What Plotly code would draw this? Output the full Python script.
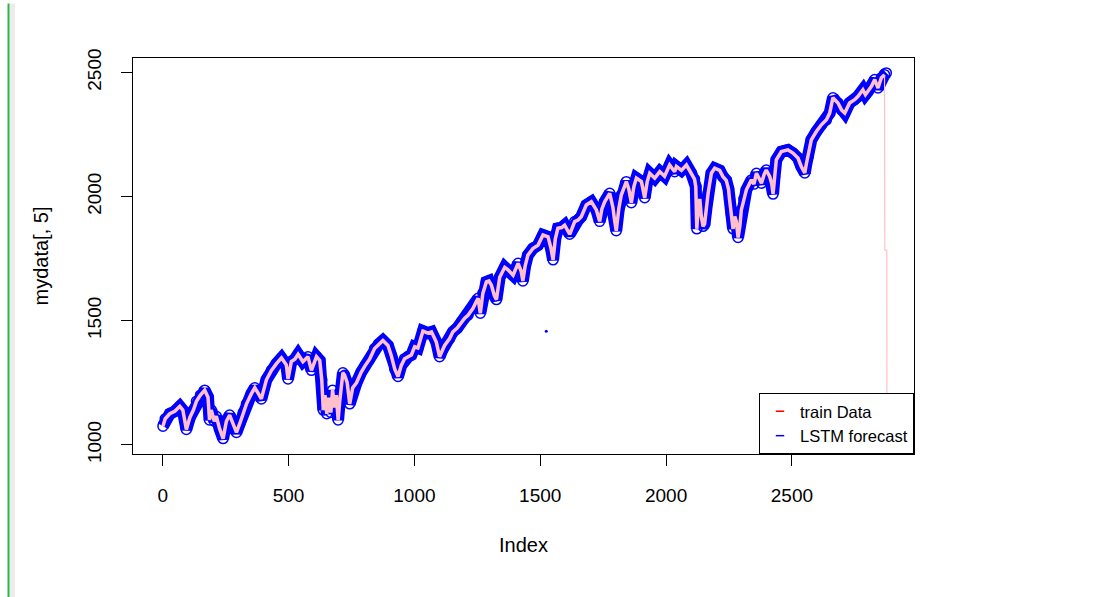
import plotly.graph_objects as go

# ---- data (index, close) ----
idx = [1, 10, 28, 48, 68, 80, 94, 108, 122, 134, 150, 167, 180, 186, 193, 205, 213, 226, 240, 253,
       266, 279, 293, 306, 320, 333, 352, 366, 379, 392, 412, 432, 452, 472, 491, 498, 511, 525, 538, 557,
       577, 591, 611, 624, 632, 638, 645, 652, 660, 668, 675, 683, 690, 697, 703, 716, 723, 733, 743, 755,
       770, 789, 805, 822, 842, 858, 875, 895, 908, 922, 935, 948, 961, 975, 988, 1001, 1014, 1034, 1054, 1068,
       1087, 1100, 1110, 1120, 1140, 1153, 1170, 1187, 1200, 1213, 1233, 1245, 1253, 1262, 1272, 1286, 1296, 1306, 1318, 1326,
       1339, 1359, 1372, 1392, 1412, 1424, 1431, 1440, 1451, 1471, 1491, 1511, 1531, 1543, 1551, 1560, 1570, 1585, 1597, 1617,
       1637, 1650, 1663, 1683, 1703, 1723, 1736, 1745, 1756, 1776, 1789, 1796, 1802, 1812, 1822, 1842, 1852, 1862, 1872, 1882,
       1902, 1915, 1925, 1935, 1955, 1975, 1994, 2014, 2034, 2041, 2061, 2081, 2100, 2113, 2118, 2122, 2128, 2134, 2140, 2147,
       2153, 2160, 2167, 2180, 2193, 2213, 2226, 2239, 2248, 2252, 2259, 2266, 2273, 2279, 2286, 2293, 2299, 2309, 2319, 2339,
       2349, 2359, 2369, 2379, 2390, 2398, 2412, 2420, 2425, 2431, 2438, 2458, 2471, 2484, 2504, 2524, 2537, 2551, 2557, 2564,
       2577, 2597, 2617, 2637, 2650, 2663, 2673, 2683, 2697, 2710, 2729, 2749, 2762, 2782, 2792, 2802, 2816, 2829, 2842, 2855,
       2868, 2875]
close = [1075, 1105, 1125, 1135, 1155, 1140, 1062, 1110, 1140, 1175, 1200, 1220, 1192, 1100, 1140, 1095, 1115, 1065, 1025, 1095,
         1120, 1085, 1050, 1085, 1130, 1165, 1205, 1230, 1208, 1185, 1262, 1300, 1327, 1350, 1322, 1265, 1335, 1345, 1365, 1335,
         1355, 1300, 1355, 1340, 1262, 1140, 1200, 1125, 1190, 1130, 1220, 1150, 1200, 1100, 1172, 1290, 1280, 1250, 1165, 1230,
         1250, 1293, 1320, 1345, 1388, 1405, 1420, 1400, 1360, 1305, 1275, 1320, 1347, 1355, 1362, 1395, 1390, 1458, 1450, 1455,
         1414, 1355, 1380, 1400, 1428, 1455, 1470, 1495, 1510, 1522, 1550, 1575, 1590, 1530, 1610, 1656, 1660, 1643, 1600, 1585,
         1675, 1715, 1705, 1683, 1731, 1700, 1660, 1720, 1764, 1791, 1804, 1845, 1838, 1790, 1745, 1830, 1872, 1875, 1885, 1848,
         1899, 1905, 1919, 1966, 1979, 1946, 1900, 1950, 1979, 2013, 1955, 1900, 1862, 1950, 2006, 2060, 2030, 1975, 2040, 2074,
         2060, 1995, 2060, 2094, 2074, 2100, 2082, 2127, 2100, 2121, 2105, 2127, 2094, 2070, 2040, 1870, 1960, 1990, 1920, 1880,
         1890, 1950, 2013, 2094, 2114, 2105, 2080, 2065, 2030, 1990, 1930, 1870, 1920, 1900, 1835, 1880, 1946, 1990, 2027, 2067,
         2050, 2094, 2075, 2054, 2090, 2107, 2080, 2050, 2010, 2080, 2148, 2181, 2185, 2188, 2175, 2155, 2121, 2095, 2130, 2161,
         2228, 2262, 2289, 2309, 2336, 2398, 2385, 2377, 2349, 2336, 2377, 2390, 2403, 2430, 2410, 2423, 2444, 2471, 2437, 2478,
         2491, 2498]

# tail of the training line (drops off the bottom of the plot)
train_tail_idx = [2869, 2877, 2878]
train_tail_val = [1784, 1784, 600]

# isolated forecast point
stray_idx = [1524]
stray_val = [1457]

x_ticks = [0, 500, 1000, 1500, 2000, 2500]
y_ticks = [1000, 1500, 2000, 2500]

FONT = "Liberation Sans, Arial, sans-serif"

fig = go.Figure()

# LSTM forecast: open blue circles
fig.add_trace(go.Scatter(
    x=idx, y=close, mode="lines+markers", showlegend=False,
    line=dict(color="#0000ff", width=12),
    marker=dict(symbol="circle-open", size=10, color="#0000ff", line=dict(width=1.5, color="#0000ff")),
    hoverinfo="skip"))
fig.add_trace(go.Scatter(
    x=stray_idx, y=stray_val, mode="markers", showlegend=False,
    marker=dict(symbol="circle", size=3, color="#0000ff"), hoverinfo="skip"))

# train data: pink line
fig.add_trace(go.Scatter(
    x=idx[:-1], y=close[:-1], mode="lines", showlegend=False,
    line=dict(color="#ffc0cb", width=3.5), hoverinfo="skip"))
fig.add_trace(go.Scatter(
    x=idx[-2:-1] + train_tail_idx, y=close[-2:-1] + train_tail_val, mode="lines", showlegend=False,
    line=dict(color="#ffc0cb", width=1.2), hoverinfo="skip"))

# legend entries
fig.add_trace(go.Scatter(x=[None], y=[None], mode="markers", name="train Data",
                         marker=dict(symbol="line-ew", size=6, color="red", line=dict(color="red", width=1.5))))
fig.add_trace(go.Scatter(x=[None], y=[None], mode="markers", name="LSTM forecast",
                         marker=dict(symbol="line-ew", size=6, color="blue", line=dict(color="blue", width=1.5))))

axis_common = dict(showline=True, linecolor="black", linewidth=1, mirror=True,
                   ticks="outside", ticklen=11, tickcolor="black", tickwidth=1,
                   showgrid=False, zeroline=False,
                   tickfont=dict(family=FONT, size=19, color="black"))

fig.update_xaxes(range=[-118, 2985], tickvals=x_ticks, ticktext=[str(v) for v in x_ticks],
                 ticklabelstandoff=13,
                 title=dict(text="Index", font=dict(family=FONT, size=20, color="black"), standoff=33),
                 **axis_common)
fig.update_yaxes(range=[963, 2558], tickvals=y_ticks, ticktext=[str(v) for v in y_ticks],
                 tickangle=-90, ticklabelstandoff=12,
                 title=dict(text="mydata[, 5]", font=dict(family=FONT, size=20, color="black"), standoff=30),
                 **axis_common)

# screenshot UI edge at the far left
fig.add_shape(type="rect", xref="paper", yref="paper",
              x0=(9.5 - 133) / 781, x1=(15 - 133) / 781, y0=(453.5 - 597) / 395.2, y1=(453.5 - 4) / 395.2,
              fillcolor="#ececec", line=dict(width=0), layer="below")
fig.add_shape(type="line", xref="paper", yref="paper",
              x0=(8.5 - 133) / 781, x1=(8.5 - 133) / 781, y0=(453.5 - 597) / 395.2, y1=(453.5 - 4) / 395.2,
              line=dict(color="#2db54c", width=2))

fig.update_layout(
    width=1101, height=597,
    margin=dict(l=133, r=187, t=58, b=143),
    paper_bgcolor="white", plot_bgcolor="white",
    font=dict(family=FONT, color="black"),
    legend=dict(x=1, y=0, xanchor="right", yanchor="bottom",
                bgcolor="white", bordercolor="black", borderwidth=1,
                font=dict(family=FONT, size=16.5, color="black"),
                itemwidth=30, tracegroupgap=0),
)

fig.write_html("out.html")
